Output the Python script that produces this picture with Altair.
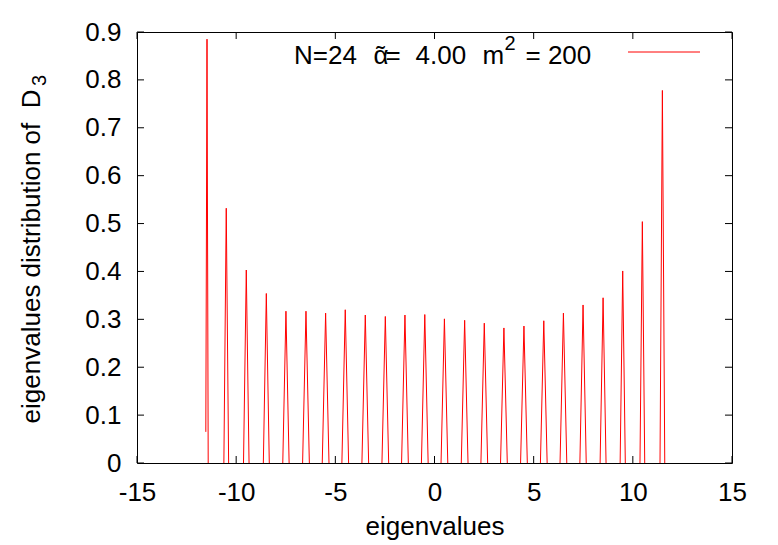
import altair as alt
import pandas as pd

# ---- data ----
peak_x = [-11.47, -10.50, -9.49, -8.48, -7.49, -6.48, -5.49, -4.50, -3.49, -2.48, -1.49, -0.49,
          0.50, 1.52, 2.51, 3.50, 4.51, 5.51, 6.50, 7.49, 8.50, 9.49, 10.48, 11.49]
peak_h = [0.885, 0.532, 0.403, 0.354, 0.317, 0.317, 0.313, 0.320, 0.309, 0.306, 0.309, 0.310,
          0.301, 0.298, 0.292, 0.282, 0.286, 0.297, 0.313, 0.330, 0.345, 0.401, 0.504, 0.778]
peak_halfwidth = [0.06, 0.12, 0.14, 0.15, 0.16, 0.17, 0.17, 0.17, 0.17, 0.17, 0.17, 0.17,
                  0.17, 0.17, 0.17, 0.17, 0.17, 0.17, 0.17, 0.16, 0.15, 0.13, 0.12, 0.12]
peak_left_y = [0.065] + [0.0] * 23

x_ticks = [-15, -10, -5, 0, 5, 10, 15]
y_ticks = [0, 0.1, 0.2, 0.3, 0.4, 0.5, 0.6, 0.7, 0.8, 0.9]

NB = "\u00a0"
x_title = "eigenvalues"
y_title = "eigenvalues distribution of" + NB + NB + "D"
y_title_sub = "3"

rows = []
for i, (c, h, w, ly) in enumerate(zip(peak_x, peak_h, peak_halfwidth, peak_left_y)):
    rows.append({"peak": i, "x": c - w, "y": ly})
    rows.append({"peak": i, "x": c, "y": h})
    rows.append({"peak": i, "x": c + w, "y": 0.0})
df = pd.DataFrame(rows)

W, H = 595, 431
FONT = "Liberation Sans"
FS = 26

xscale = alt.Scale(domain=[-15, 15], nice=False, zero=False)
yscale = alt.Scale(domain=[0, 0.9], nice=False, zero=False)

lines = alt.Chart(df).mark_line(color="#ff0000", strokeWidth=1, clip=True).encode(
    x=alt.X("x:Q", scale=xscale,
            axis=alt.Axis(values=x_ticks, title=x_title, ticks=False, tickSize=0,
                          domain=False, grid=False, labelFontSize=FS, labelFont=FONT,
                          labelColor="black", labelPadding=16, labelFlush=False,
                          labelExpr="replace(datum.label, '\u2212', '-')",
                          titleFont=FONT, titleFontSize=FS, titleFontWeight="normal",
                          titleColor="black", titleX=W / 2, titleY=71,
                          titleBaseline="alphabetic", titleAlign="center")),
    y=alt.Y("y:Q", scale=yscale,
            axis=alt.Axis(values=y_ticks, title=y_title,
                          ticks=False, tickSize=0, domain=False, grid=False,
                          labelFontSize=FS, labelFont=FONT, labelColor="black",
                          labelPadding=16, labelFlush=False, format=".1~f",
                          titleFont=FONT, titleFontSize=FS, titleFontWeight="normal",
                          titleColor="black", titleX=-98, titleY=57, titleAngle=270,
                          titleBaseline="alphabetic", titleAlign="right")),
    detail="peak:N",
)

xt = pd.DataFrame({"t": x_ticks})
yt = pd.DataFrame({"t": y_ticks})

tick_bottom = alt.Chart(xt).mark_rule(color="black", strokeWidth=1).encode(
    x=alt.X("t:Q", scale=xscale), y=alt.value(H), y2=alt.value(H - 7))
tick_top = alt.Chart(xt).mark_rule(color="black", strokeWidth=1).encode(
    x=alt.X("t:Q", scale=xscale), y=alt.value(0), y2=alt.value(7))
tick_left = alt.Chart(yt).mark_rule(color="black", strokeWidth=1).encode(
    y=alt.Y("t:Q", scale=yscale), x=alt.value(0), x2=alt.value(7))
tick_right = alt.Chart(yt).mark_rule(color="black", strokeWidth=1).encode(
    y=alt.Y("t:Q", scale=yscale), x=alt.value(W), x2=alt.value(W - 7))

one = pd.DataFrame({"k": [0]})


def label(text, x, y, size=FS, angle=0, align="left"):
    return alt.Chart(one).mark_text(
        font=FONT, fontSize=size, color="black", align=align,
        baseline="alphabetic", angle=angle, text=text
    ).encode(x=alt.value(x), y=alt.value(y))


# pixel layout of the key text (relative to plot area)
BL = 32.3
key_parts = [
    label("N=24", 157, BL),
    label("\u03b1", 236.5, BL),
    label("\u02dc", 243.5, BL, align="center"),
    label("=", 248.5, BL),
    label("4.00", 278.5, BL),
    label("m", 345.5, BL),
    label("2", 367.5, 18.3, size=20),
    label("=" + NB + "200", 388.5, BL),
]
legend_line = alt.Chart(one).mark_rule(color="#ff0000", strokeWidth=1).encode(
    x=alt.value(491), x2=alt.value(563), y=alt.value(20))

y_sub = label(y_title_sub, -91, 54, size=20, angle=270)

chart = alt.layer(
    lines, tick_bottom, tick_top, tick_left, tick_right, legend_line, y_sub, *key_parts
).resolve_scale(x="shared", y="shared").properties(
    width=W, height=H,
    autosize=alt.AutoSizeParams(type="none"),
    padding={"left": 129, "top": 24, "right": 38, "bottom": 82},
    background="white",
).configure_view(stroke="black", strokeWidth=1)

chart.save("out.html", embed_options={"renderer": "svg", "actions": False})
